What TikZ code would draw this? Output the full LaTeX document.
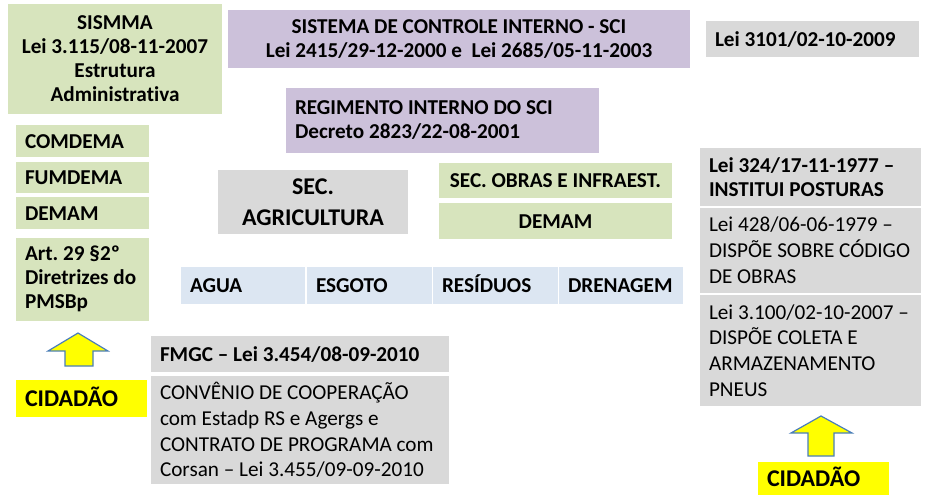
\documentclass[tikz,border=0pt]{standalone}
\usepackage{fontspec}
\setmainfont{Carlito}[Ligatures=NoCommon]
\frenchspacing
\definecolor{grn}{HTML}{D7E4BD}
\definecolor{prp}{HTML}{CCC1DA}
\definecolor{gry}{HTML}{D9D9D9}
\definecolor{blu}{HTML}{DCE6F2}
\definecolor{ylw}{HTML}{FFFF00}
\definecolor{arrline}{HTML}{4A7EBB}
\tikzset{
  box/.style={rectangle, inner xsep=9pt, inner ysep=0pt, text=black, font=\fontsize{21.2}{24}\selectfont\bfseries},
  reg/.style={font=\fontsize{21.2}{25.8}\selectfont},
  big/.style={font=\fontsize{24}{31}\selectfont\bfseries},
  cid/.style={font=\fontsize{24}{28}\selectfont\bfseries},
  oneline/.style={text height=14pt, text depth=0pt},
  uparrow/.style={fill=ylw, draw=arrline, line width=1.2pt, line join=miter}
}
% left-aligned box: name, cx, cy, w, h, fill
\newcommand{\lbx}[6]{%
  \node[box, fill=#6, minimum width=#4pt, minimum height=#5pt, text width=#4pt-18pt, align=flush left] (#1) at (#2,#3)}
% centred box: name, cx, cy, w, h, fill
\newcommand{\cbx}[6]{%
  \node[box, fill=#6, minimum width=#4pt, minimum height=#5pt, inner xsep=0pt, align=center] (#1) at (#2,#3)}
\begin{document}
\begin{tikzpicture}[x=1pt,y=-1pt]
\useasboundingbox (0,0) rectangle (925,495);
\fill[white] (0,0) rectangle (925,495);
% top row
\cbx{sismma}{115}{59}{214}{110}{grn} {SISMMA\\Lei 3.115/08-11-2007\\Estrutura\\Administrativa};
\cbx{sci}{459}{39}{462}{58}{prp} {SISTEMA DE CONTROLE INTERNO - SCI\\Lei 2415/29-12-2000 e\ \ Lei 2685/05-11-2003};
\lbx{regim}{442.5}{120.5}{313}{65}{prp} {REGIMENTO INTERNO DO SCI\\Decreto 2823/22-08-2001};
\lbx{lei3101}{812.5}{39}{213}{36}{gry} [oneline] {Lei 3101/02-10-2009};
% left column
\lbx{comdema}{82.5}{141}{133}{32}{grn} [oneline] {COMDEMA};
\lbx{fumdema}{82.5}{177.5}{133}{31}{grn} [oneline] {FUMDEMA};
\lbx{demamL}{82.5}{213}{133}{32}{grn} [oneline] {DEMAM};
\lbx{art}{82.5}{279}{133}{83}{grn} {Art. 29 §2º\\Diretrizes do\\PMSBp};
% middle
\cbx{secagri}{313}{202}{190}{64}{gry} [big] {SEC.\\AGRICULTURA};
\cbx{secobras}{555.5}{180.5}{233}{35}{grn} [oneline] {SEC. OBRAS E INFRAEST.};
\cbx{demamR}{555.5}{221}{233}{36}{grn} [oneline] {DEMAM};
\lbx{agua}{243}{285.5}{124}{37}{blu} [oneline] {AGUA};
\lbx{esgoto}{369.5}{285.5}{125}{37}{blu} [oneline] {ESGOTO};
\lbx{residuos}{495.5}{285.5}{125}{37}{blu} [oneline] {RESÍDUOS};
\lbx{drenagem}{621}{285.5}{124}{37}{blu} [oneline] {DRENAGEM};
% right column
\lbx{lei324}{810.5}{177}{221}{58}{gry} {Lei 324/17-11-1977 –\\INSTITUI POSTURAS};
\lbx{lei428}{810.5}{250.5}{221}{85}{gry} [reg] {Lei 428/06-06-1979 –\\DISPÕE SOBRE CÓDIGO\\DE OBRAS};
\lbx{lei3100}{810.5}{350.5}{221}{111}{gry} [reg] {Lei 3.100/02-10-2007 –\\DISPÕE COLETA E\\ARMAZENAMENTO\\PNEUS};
% bottom
\lbx{fmgc}{300}{354}{298}{36}{gry} [oneline] {FMGC – Lei 3.454/08-09-2010};
\lbx{conv}{300}{430}{298}{108}{gry} [reg] {CONVÊNIO DE COOPERAÇÃO\\com Estadp RS e Agergs e\\CONTRATO DE PROGRAMA com\\Corsan – Lei 3.455/09-09-2010};
\lbx{cidL}{81.5}{398.5}{131}{37}{ylw} [cid, text height=16pt, text depth=0pt] {CIDADÃO};
\lbx{cidR}{823.5}{478.5}{131}{33}{ylw} [cid, text height=16pt, text depth=0pt] {CIDADÃO};
% arrows
\draw[uparrow] (78,333) -- (108,351) -- (93,351) -- (93,366) -- (65,366) -- (65,351) -- (48,351) -- cycle;
\draw[uparrow] (821,416) -- (852,433) -- (834,433) -- (834,456) -- (808,456) -- (808,433) -- (791,433) -- cycle;
\end{tikzpicture}
\end{document}
